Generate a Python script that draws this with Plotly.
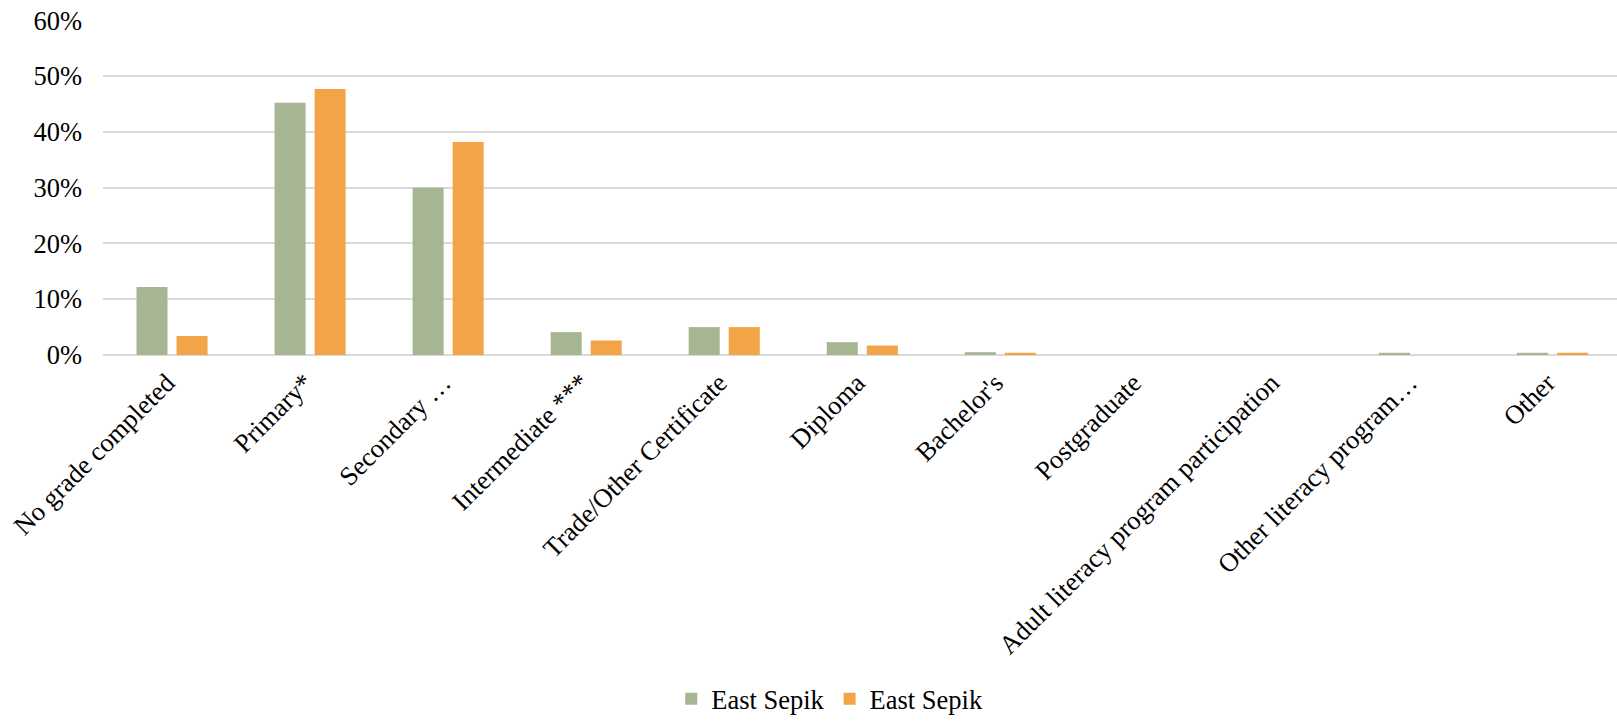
import plotly.graph_objects as go

# Highest level of education completed, share of respondents (%)
categories = [
    "No grade completed",
    "Primary*",
    "Secondary …",
    "Intermediate ***",
    "Trade/Other Certificate",
    "Diploma",
    "Bachelor's",
    "Postgraduate",
    "Adult literacy program participation",
    "Other literacy program…",
    "Other",
]
series_a_name = "East Sepik"
series_a = [12.2, 45.2, 30.0, 4.1, 5.0, 2.3, 0.5, 0.0, 0.0, 0.4, 0.4]
series_b_name = "East Sepik"
series_b = [3.4, 47.7, 38.2, 2.6, 5.0, 1.7, 0.4, 0.0, 0.0, 0.0, 0.4]
y_ticks = [0, 10, 20, 30, 40, 50, 60]
y_tick_labels = ["0%", "10%", "20%", "30%", "40%", "50%", "60%"]

GREEN = "#A6B592"
ORANGE = "#F2A447"
FONT = "Liberation Serif"
FS = 26.5

fig = go.Figure()
fig.add_trace(go.Bar(x=categories, y=series_a, name=series_a_name,
                     marker=dict(color=GREEN, line=dict(width=0))))
fig.add_trace(go.Bar(x=categories, y=series_b, name=series_b_name,
                     marker=dict(color=ORANGE, line=dict(width=0))))

fig.update_layout(
    width=1617,
    height=723,
    margin=dict(l=103, r=0, t=20, b=368),
    paper_bgcolor="white",
    plot_bgcolor="white",
    barmode="group",
    bargap=0.42,
    bargroupgap=0.225,
    font=dict(family=FONT, size=FS, color="black"),
    showlegend=True,
    legend=dict(
        orientation="h",
        x=0.48,
        xanchor="center",
        y=-1.0985,
        yanchor="bottom",
        font=dict(family=FONT, size=FS, color="black"),
        itemwidth=30,
        traceorder="normal",
    ),
    xaxis=dict(
        type="category",
        range=[-0.5, 10.467],
        tickangle=-45,
        showgrid=False,
        showline=False,
        ticks="",
        automargin=False,
        ticklabelstandoff=6,
        ticklabelshift=-5,
        tickfont=dict(family=FONT, size=FS, color="black"),
    ),
    yaxis=dict(
        range=[0, 60.05],
        tickvals=y_ticks,
        ticktext=y_tick_labels,
        showgrid=True,
        gridcolor="#D9D9D9",
        gridwidth=2,
        zeroline=True,
        zerolinecolor="#D9D9D9",
        zerolinewidth=2,
        showline=False,
        ticks="",
        automargin=False,
        ticklabelstandoff=20,
        tickfont=dict(family=FONT, size=FS, color="black"),
    ),
)

fig.write_html("out.html")
